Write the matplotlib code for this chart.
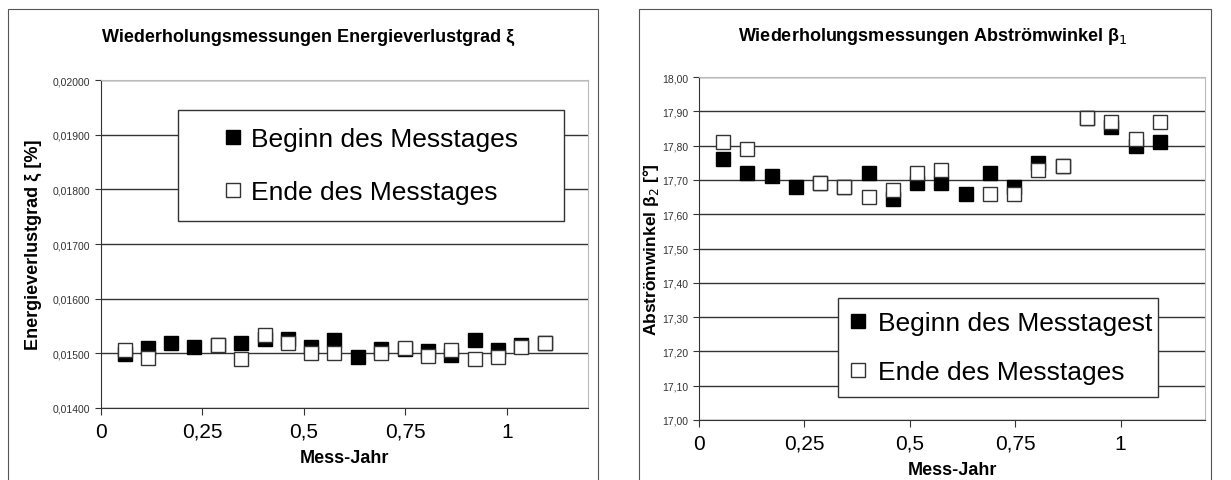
import numpy as np
import matplotlib
matplotlib.use('Agg')
import matplotlib.pyplot as plt
from matplotlib.patches import Rectangle

plt.rcParams['font.family'] = ['Liberation Sans', 'DejaVu Sans']

# Data: measurement dates (every 3 weeks) in years
mess_jahr = [0.058, 0.115, 0.173, 0.230, 0.288, 0.345, 0.403, 0.460, 0.518, 0.575,
             0.633, 0.690, 0.748, 0.805, 0.863, 0.921, 0.978, 1.036, 1.093]

# left chart: energy loss grade
xi_beginn = [0.01499, 0.01510, 0.01519, 0.01512, 0.01515, 0.01519, 0.01527, 0.01527, 0.01511, 0.01524,
             0.01494, 0.01508, 0.01508, 0.01504, 0.01497, 0.01524, 0.01507, 0.01516, 0.01518]
xi_ende = [0.01507, 0.01492, np.nan, np.nan, 0.01516, 0.01490, 0.01533, 0.01518, 0.01500, 0.01501,
           np.nan, 0.01500, 0.01510, 0.01496, 0.01507, 0.01489, 0.01494, 0.01511, 0.01519]

# right chart: outflow angle
beta_beginn = [17.76, 17.72, 17.71, 17.68, 17.69, 17.68, 17.72, 17.645, 17.69, 17.69,
               17.66, 17.72, 17.68, 17.75, 17.74, 17.88, 17.855, 17.80, 17.81]
beta_ende = [17.81, 17.79, np.nan, np.nan, 17.69, 17.68, 17.65, 17.67, 17.72, 17.73,
             np.nan, 17.66, 17.66, 17.73, 17.74, 17.88, 17.87, 17.82, 17.87]

x_ticks = [0, 0.25, 0.5, 0.75, 1]
x_labels = ['0', '0,25', '0,5', '0,75', '1']

fig = plt.figure(figsize=(12.31, 4.81), dpi=100)

# outer panel frames (cut off at the bottom like the screenshot)
fig.patches.append(Rectangle((8 / 1231, -0.1), 590 / 1231, 1.1 - 10 / 481,
                             transform=fig.transFigure, fill=False, ec='#555555', lw=0.8))
fig.patches.append(Rectangle((639 / 1231, -0.1), 572 / 1231, 1.1 - 10 / 481,
                             transform=fig.transFigure, fill=False, ec='#555555', lw=0.8))


def style_axes(ax):
    ax.set_xlim(0, 1.2)
    ax.set_xticks(x_ticks)
    ax.set_xticklabels(x_labels, fontsize=15)
    ax.yaxis.grid(True, color='#333333', lw=1)
    ax.set_axisbelow(True)
    for s in ['top', 'right']:
        ax.spines[s].set_color('#bbbbbb')
    for s in ['left', 'bottom']:
        ax.spines[s].set_color('#333333')
    ax.tick_params(axis='y', labelsize=7.5, length=4, color='#333333', labelcolor='#333333')
    ax.tick_params(axis='x', length=5, color='#333333', pad=5)
    ax.set_xlabel('Mess-Jahr', fontsize=13, fontweight='bold', labelpad=6)


# left
ax1 = fig.add_axes([101 / 1231, 1 - 409 / 481, 487 / 1231, 328 / 481])
ax1.plot(mess_jahr, xi_beginn, 's', ms=10, mfc='black', mec='black', label='Beginn des Messtages')
ax1.plot(mess_jahr, xi_ende, 's', ms=10, mfc='white', mec='#333333', mew=1, label='Ende des Messtages')
ax1.set_ylim(0.014, 0.020)
ax1.set_yticks(np.arange(0.014, 0.02001, 0.001))
ax1.set_yticklabels([f'{v:.5f}'.replace('.', ',') for v in np.arange(0.014, 0.02001, 0.001)])
style_axes(ax1)
ax1.set_ylabel('Energieverlustgrad ξ [%]', fontsize=13, fontweight='bold', labelpad=8)
fig.text(308 / 1231, 1 - 37 / 481, 'Wiederholungsmessungen Energieverlustgrad ξ',
         ha='center', va='center', fontsize=13, fontweight='bold')
ax1.legend(loc='upper left', bbox_to_anchor=(0.158, 0.585, 0.792, 0.324), mode='expand',
           fontsize=19, frameon=True, fancybox=False, edgecolor='#333333', framealpha=1,
           handlelength=2.9, handletextpad=-0.8, borderpad=0.65, labelspacing=1.1,
           borderaxespad=0).get_frame().set_linewidth(1)

# right
ax2 = fig.add_axes([699 / 1231, 1 - 421 / 481, 506 / 1231, 343 / 481])
ax2.plot(mess_jahr, beta_beginn, 's', ms=10, mfc='black', mec='black', label='Beginn des Messtagest')
ax2.plot(mess_jahr, beta_ende, 's', ms=10, mfc='white', mec='#333333', mew=1, label='Ende des Messtages')
ax2.set_ylim(17.0, 18.0)
ax2.set_yticks(np.arange(17.0, 18.001, 0.1))
ax2.set_yticklabels([f'{v:.2f}'.replace('.', ',') for v in np.arange(17.0, 18.001, 0.1)])
style_axes(ax2)
ax2.set_ylabel('Abströmwinkel β$_2$ [°]', fontsize=12.5, fontweight='bold', labelpad=1)
fig.text(933 / 1231, 1 - 37 / 481, 'Wiederholungsmessungen Abströmwinkel β$_1$',
         ha='center', va='center', fontsize=13, fontweight='bold')
ax2.legend(loc='upper left', bbox_to_anchor=(0.275, 0.076, 0.632, 0.28), mode='expand',
           fontsize=19, frameon=True, fancybox=False, edgecolor='#333333', framealpha=1,
           handlelength=0.5, handletextpad=0.5, borderpad=0.5, labelspacing=0.95,
           borderaxespad=0).get_frame().set_linewidth(1)

fig.savefig('out.png', dpi=100)
